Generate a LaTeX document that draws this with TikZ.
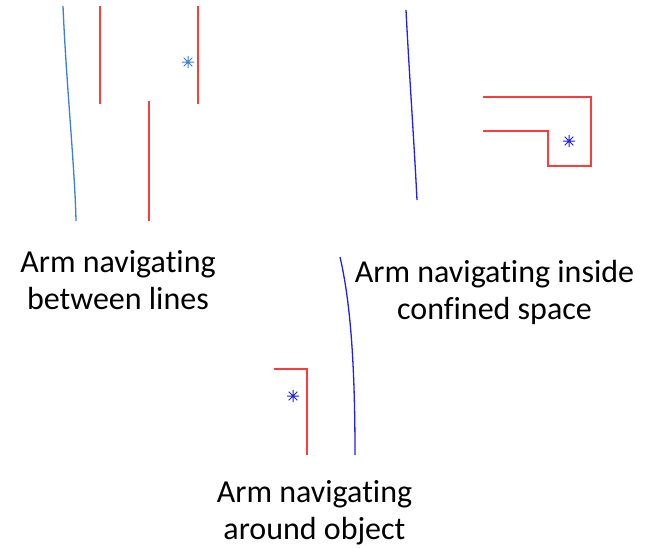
\documentclass[tikz,border=0pt]{standalone}
\usepackage{fontspec}
\setmainfont[RawFeature={-liga;-clig;-calt;-dlig}]{Carlito}
\definecolor{obst}{HTML}{FF3B3B}
\definecolor{armA}{HTML}{3A80D2}
\definecolor{armB}{HTML}{2020F0}
\newcommand{\goalstar}[2]{%
  \draw[line width=1pt,#2] ($#1+(0,-6)$) -- ($#1+(0,6)$)
    ($#1+(-6,0)$) -- ($#1+(6,0)$)
    ($#1+(-4.3,-4.3)$) -- ($#1+(4.3,4.3)$)
    ($#1+(-4.3,4.3)$) -- ($#1+(4.3,-4.3)$);}
\usetikzlibrary{calc}
\begin{document}
\begin{tikzpicture}[x=1pt,y=-1pt,
  wall/.style={draw=obst,line width=1.3pt},
  arm/.style={line width=1.3pt},
  lbl/.style={align=center,font=\fontsize{32}{37}\selectfont,inner sep=0pt}]
\useasboundingbox (0,0) rectangle (646,547);
% panel 1
\draw[arm,draw=armA] (63,6) .. controls (66,80) and (75,170) .. (76,221);
\draw[wall] (100,6) -- (100,104);
\draw[wall] (149,101) -- (149,221);
\draw[wall] (198,6) -- (198,104);
\goalstar{(188,62)}{armA}
\node[lbl] (t1) at (118,280) {Arm navigating\\between lines};
% panel 2
\draw[arm,draw=armB] (406,10) .. controls (409,70) and (414,140) .. (417,200);
\draw[wall] (483,97) -- (591,97) -- (591,166) -- (548,166) -- (548,131) -- (483,131);
\goalstar{(569,141)}{armB}
\node[lbl] (t2) at (494.5,292) {Arm navigating inside\\confined space};
% panel 3
\draw[arm,draw=armB] (340,257) .. controls (350,300) and (355,360) .. (355,455);
\draw[wall] (274,369) -- (307,369) -- (307,455);
\goalstar{(293,396)}{armB}
\node[lbl] (t3) at (314.5,513) {Arm navigating\\around object};
\end{tikzpicture}
\end{document}
